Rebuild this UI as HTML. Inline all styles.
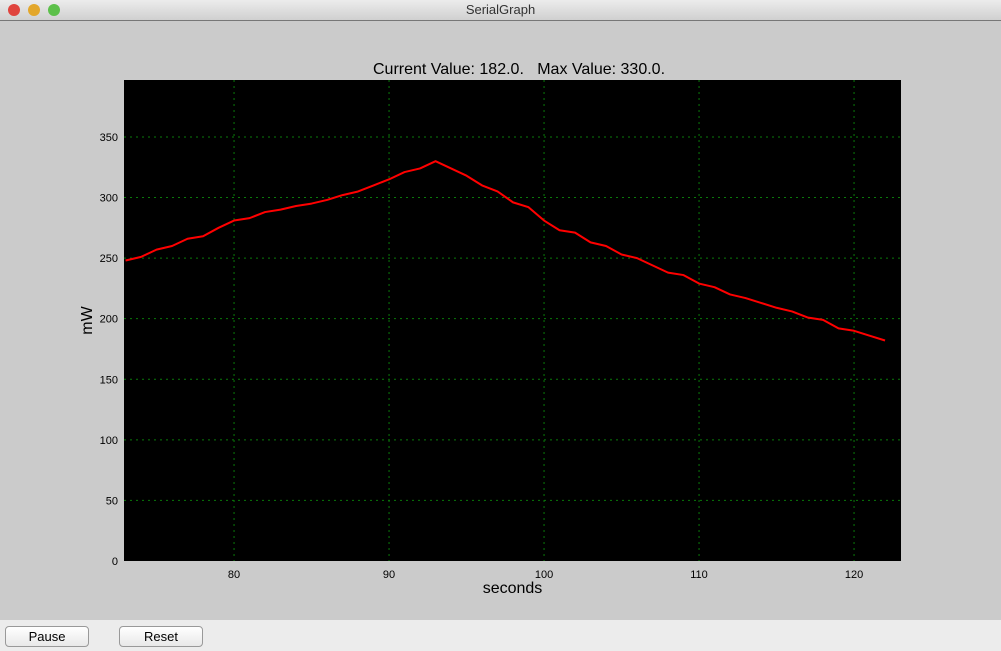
<!DOCTYPE html>
<html><head><meta charset="utf-8"><style>
body{margin:0;width:1001px;height:651px;overflow:hidden;background:#cbcbcb;font-family:"Liberation Sans",sans-serif;position:relative}
#tb{position:absolute;left:0;top:0;width:1001px;height:20px;background:linear-gradient(#ececec,#d0d0d0);border-bottom:1px solid #777;text-align:center;font-size:13px;line-height:20px;color:#333}
.dot{position:absolute;top:4px;width:12px;height:12px;border-radius:50%}
#bot{position:absolute;left:0;top:620px;width:1001px;height:31px;background:#ececec}
.btn{position:absolute;top:6px;height:19px;width:82px;border:1px solid #999;border-radius:4px;background:linear-gradient(#fff,#e8e8e8);font-size:13px;text-align:center;line-height:19px;color:#000}
</style></head><body>
<div id="tb">SerialGraph
<div class="dot" style="left:8px;background:#e0443e"></div>
<div class="dot" style="left:28px;background:#e3a72b"></div>
<div class="dot" style="left:48px;background:#5cc04a"></div>
</div>
<svg id="chart" width="1001" height="600" style="position:absolute;left:0;top:21px"></svg>
<div id="bot">
<div class="btn" style="left:5px">Pause</div>
<div class="btn" style="left:119px">Reset</div>
</div>
<script>
const seconds=[73,74,75,76,77,78,79,80,81,82,83,84,85,86,87,88,89,90,91,92,93,94,95,96,97,98,99,100,101,102,103,104,105,106,107,108,109,110,111,112,113,114,115,116,117,118,119,120,121,122];
const mW=[248,251,257,260,266,268,275,281,283,288,290,293,295,298,302,305,310,315,321,324,330,324,318,310,305,296,292,281,273,271,263,260,253,250,244,238,236,229,226,220,217,213,209,206,201,199,192,190,186,182];
const xTicks=[80,90,100,110,120];
const yTicks=[0,50,100,150,200,250,300,350];
const NS='http://www.w3.org/2000/svg';
const svg=document.getElementById('chart');
const L=124,R=901,T=59,B=540;
const xMin=72.9,xMax=123.03,yMin=0,yMax=397;
const sx=v=>L+(v-xMin)/(xMax-xMin)*(R-L);
const sy=v=>B-(v-yMin)/(yMax-yMin)*(B-T);
function mk(t,a,txt){const e=document.createElementNS(NS,t);for(const k in a)e.setAttribute(k,a[k]);if(txt!==undefined)e.textContent=txt;svg.appendChild(e);return e;}
let e=mk('rect',{x:L,y:T,width:R-L,height:B-T,fill:'#000'});


xTicks.forEach(v=>{
 let g=mk('line',{x1:sx(v),x2:sx(v),y1:T,y2:B,stroke:'#0a7a0a','stroke-dasharray':'2,4'});
 
 
 let t=mk('text',{x:sx(v),y:B+17,'text-anchor':'middle','font-size':11,fill:'#000'},v);
 
 
});
yTicks.forEach(v=>{
 if(v>0){let g=mk('line',{x1:L,x2:R,y1:sy(v),y2:sy(v),stroke:'#0a7a0a','stroke-dasharray':'2,4'});
 
 }
 let t=mk('text',{x:L-6,y:sy(v)+4,'text-anchor':'end','font-size':11,fill:'#000'},v);
 
 
});
let p=mk('polyline',{points:seconds.map((s,i)=>sx(s)+','+sy(mW[i])).join(' '),fill:'none',stroke:'#f00','stroke-width':2,'stroke-linejoin':'round'});


let tt=mk('text',{x:519,y:53,'text-anchor':'middle','font-size':16,fill:'#000',style:'white-space:pre'},'Current Value: '+mW[mW.length-1].toFixed(1)+'.   Max Value: '+Math.max(...mW).toFixed(1)+'.');


let xl=mk('text',{x:(L+R)/2,y:572,'text-anchor':'middle','font-size':16,fill:'#000'},'seconds');


let yl=mk('text',{x:0,y:0,'text-anchor':'middle','font-size':16,fill:'#000',transform:'translate(92,'+((T+B)/2)+') rotate(-90)'},'mW');


</script>
</body></html>
